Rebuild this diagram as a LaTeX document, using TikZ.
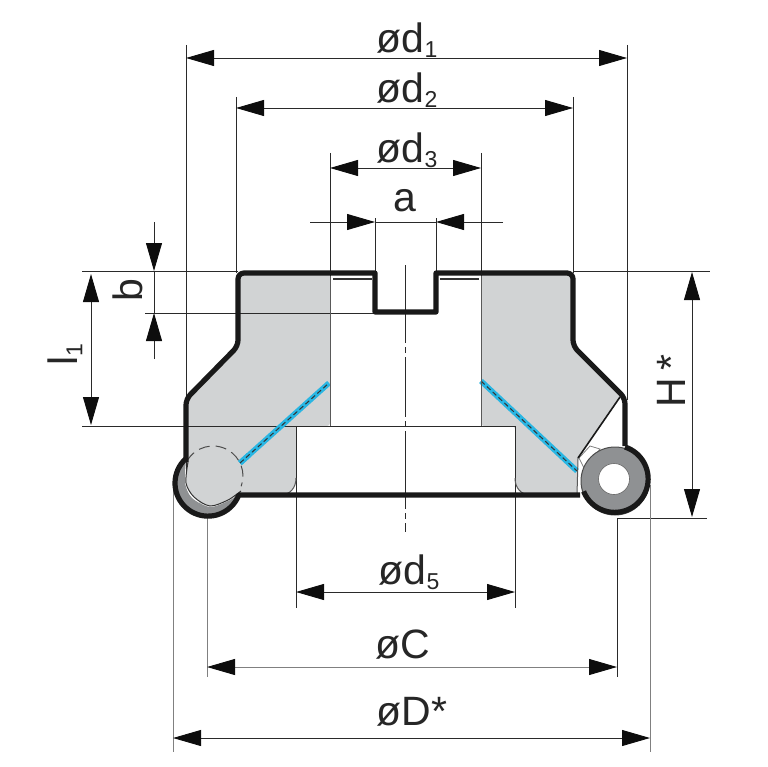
\documentclass[tikz,border=0pt]{standalone}
\usepackage{fontspec}
\setmainfont{Liberation Sans}
\usetikzlibrary{arrows.meta,calc}
\definecolor{bodygray}{HTML}{D1D3D4}
\definecolor{insertgray}{HTML}{8F9193}
\definecolor{coolblue}{HTML}{29B6E3}
\definecolor{thinline}{HTML}{2A2A2A}
\newcommand{\lab}[2]{#1\raisebox{-0.12em}{\fontsize{23}{23}\selectfont #2}}
\begin{document}
\begin{tikzpicture}[x=1pt,y=-1pt,>={Triangle[length=28pt,width=16pt,color=black!95]},
  dimline/.style={<->,line width=0.9pt,draw=thinline},
  tipline/.style={->,line width=0.9pt,draw=thinline},
  extline/.style={line width=0.9pt,draw=thinline},
  greyline/.style={line width=0.9pt,draw=gray},
  outline/.style={line width=5.2pt,draw=black!90,line join=round},
  edgeline/.style={line width=1pt,draw=black!65},
  label/.style={font=\fontsize{41}{41}\selectfont,inner sep=0pt,text=black!85},
  coolant/.style={line width=5.5pt,draw=coolblue},
  coolantdash/.style={line width=1pt,draw=black!80,dash pattern=on 5pt off 3pt}]
\useasboundingbox (0,0) rectangle (767,767);
% gray bodies
\fill[bodygray,rounded corners=3pt]
(238,273) -- (238,346) -- (186,399) -- (186,470) -- (200,505) -- (243,495)
[rounded corners=15pt] -- (296,495) [rounded corners=3pt] -- (296,426)
-- (330,426) -- (330,273) -- cycle;
\fill[bodygray,rounded corners=3pt]
(573,273) -- (573,346) -- (621,396) -- (578,458) -- (577,495)
[rounded corners=15pt] -- (515,495) [rounded corners=3pt] -- (515,426)
-- (481,426) -- (481,273) -- cycle;
% extension lines
\draw[extline] (186,45) -- (186,470);
\draw[extline] (627,45) -- (627,400);
\draw[extline] (236,97) -- (236,273);
\draw[extline] (573,97) -- (573,273);
\draw[extline] (330,153) -- (330,426);
\draw[extline] (481,153) -- (481,426);
\draw[extline] (375,218) -- (375,273);
\draw[extline] (436,218) -- (436,273);
\draw[extline] (82,271) -- (238,271);
\draw[extline] (573,271) -- (710,271);
\draw[extline] (145,313) -- (375,313);
\draw[extline] (82,426) -- (515,426);
\draw[extline] (296,426) -- (296,608);
\draw[extline] (515,426) -- (515,608);
\draw[extline] (617,518) -- (707,518);
\draw[greyline] (173,485) -- (173,752);
\draw[greyline] (650,485) -- (650,752);
\draw[greyline] (207,517) -- (207,677);
\draw[extline] (617,518) -- (617,677);
% centre line
\draw[line width=0.9pt,draw=thinline,dash pattern=on 78pt off 4pt on 6pt off 4pt on 60pt off 4pt on 6pt off 4pt] (405,265) -- (405,532);
% corner edges
\draw[edgeline] (296,478) .. controls (296,488) and (290,495) .. (280,495);
\draw[edgeline] (515,478) .. controls (515,488) and (521,495) .. (531,495);
% coolant holes
\coordinate (cl1) at (240,463);
\coordinate (cl2) at (329,383);
\coordinate (cr1) at (481,381);
\coordinate (cr2) at (577,471);
\draw[coolant] (cl1) -- (cl2);
\draw[coolantdash] (cl1) -- (cl2);
\draw[coolant] (cr1) -- (cr2);
\draw[coolantdash] (cr1) -- (cr2);
% left insert
\fill[insertgray] (185.5,459) arc[start angle=133,end angle=339,radius=33pt]
plot[smooth] coordinates {(241,493) (228,501) (210,507) (192,498) (185,483) (186,460)};
\fill[bodygray] plot[smooth] coordinates {(241,491) (228,500) (210,506) (194,497) (186,483) (188,462)} -- (215,447) -- (243,470) -- cycle;
\draw[line width=1pt,draw=black!80] plot[smooth] coordinates {(241,491) (228,500) (210,506) (194,497) (186,483) (188,462)};
\draw[line width=1pt,draw=black!70,dash pattern=on 11pt off 6pt] (187,461) arc[start angle=150,end angle=-20,radius=30pt];
\draw[coolant] (cl1) -- ($(cl1)!0.1!(cl2)$);
\draw[coolantdash] (cl1) -- ($(cl1)!0.1!(cl2)$);
% right insert
\fill[white,draw=gray,line width=0.8pt] (579,458) -- (590,446) -- (600,449) -- (585,470) -- cycle;
\fill[insertgray] (615,481) circle[radius=34pt];
\draw[line width=1pt,draw=black!70] (615,481) circle[radius=34pt];
\fill[white,draw=black!60,line width=0.6pt] (614,479) circle[radius=15.5pt];
\draw[line width=1.6pt,draw=black!90] (620,397) -- (578,458);
\draw[edgeline] (578,458) -- (577,495);
% outline
\draw[outline,rounded corners=6pt]
(186,462) -- (186,399) -- (238,346) -- (238,273) [sharp corners] -- (375,273) -- (375,312) -- (436,312) -- (436,273)
[rounded corners=6pt] -- (573,273) -- (573,346) -- (625,398) -- (625,446);
\draw[outline] (185.5,459) arc[start angle=133,end angle=339,radius=33pt] -- (580,495);
\draw[outline] (625,447) arc[start angle=72,end angle=-158,radius=33.5pt];
% thin lines under the top
\draw[line width=1.2pt,draw=black!80] (333,279) -- (372,279);
\draw[line width=1.2pt,draw=black!80] (440,279) -- (479,279);
\draw[edgeline] (330,276) -- (330,426);
\draw[edgeline] (481,276) -- (481,426);
% d1
\coordinate (d1l) at (186,58);
\coordinate (d1r) at (627,58);
\draw[dimline] (d1l) -- (d1r);
\node[label] (d1lab) at (407,40) {\lab{ød}{1}};
% d2
\coordinate (d2l) at (236,108);
\coordinate (d2r) at (573,108);
\draw[dimline] (d2l) -- (d2r);
\node[label] (d2lab) at (407,90) {\lab{ød}{2}};
% d3
\coordinate (d3l) at (330,168);
\coordinate (d3r) at (481,168);
\draw[dimline] (d3l) -- (d3r);
\node[label] (d3lab) at (407,150) {\lab{ød}{3}};
% a
\coordinate (al0) at (310,222);
\coordinate (al1) at (375,222);
\coordinate (ar0) at (503,222);
\coordinate (ar1) at (436,222);
\draw[tipline] (al0) -- (al1);
\draw[tipline] (ar0) -- (ar1);
\draw[extline] (al1) -- (ar1);
\node[label] (alab) at (405,201) {a};
% b
\coordinate (bt0) at (154,222);
\coordinate (bt1) at (154,271);
\coordinate (bb0) at (154,359);
\coordinate (bb1) at (154,313);
\draw[tipline] (bt0) -- (bt1);
\draw[tipline] (bb0) -- (bb1);
\draw[extline] (bt1) -- (bb1);
\node[label,rotate=90] (blab) at (128,290) {b};
% l1
\coordinate (l1t) at (91,274);
\coordinate (l1b) at (91,425);
\draw[dimline] (l1t) -- (l1b);
\node[label,rotate=90] (l1lab) at (65,355) {\lab{l}{1}};
% H
\coordinate (ht) at (692,272);
\coordinate (hb) at (692,517);
\draw[dimline] (ht) -- (hb);
\node[label,rotate=90] (hlab) at (671,381) {H\,*};
% d5
\coordinate (d5l) at (296,592);
\coordinate (d5r) at (515,592);
\draw[dimline] (d5l) -- (d5r);
\node[label] (d5lab) at (409,572) {\lab{ød}{5}};
% C
\coordinate (cl) at (207,667);
\coordinate (cr) at (617,667);
\draw[dimline,draw=gray] (cl) -- (cr);
\node[label] (clab) at (403,645) {øC};
% D
\coordinate (dl) at (173,738);
\coordinate (dr) at (650,738);
\draw[dimline] (dl) -- (dr);
\node[label] (dlab) at (412,712) {øD*};
\end{tikzpicture}
\end{document}
